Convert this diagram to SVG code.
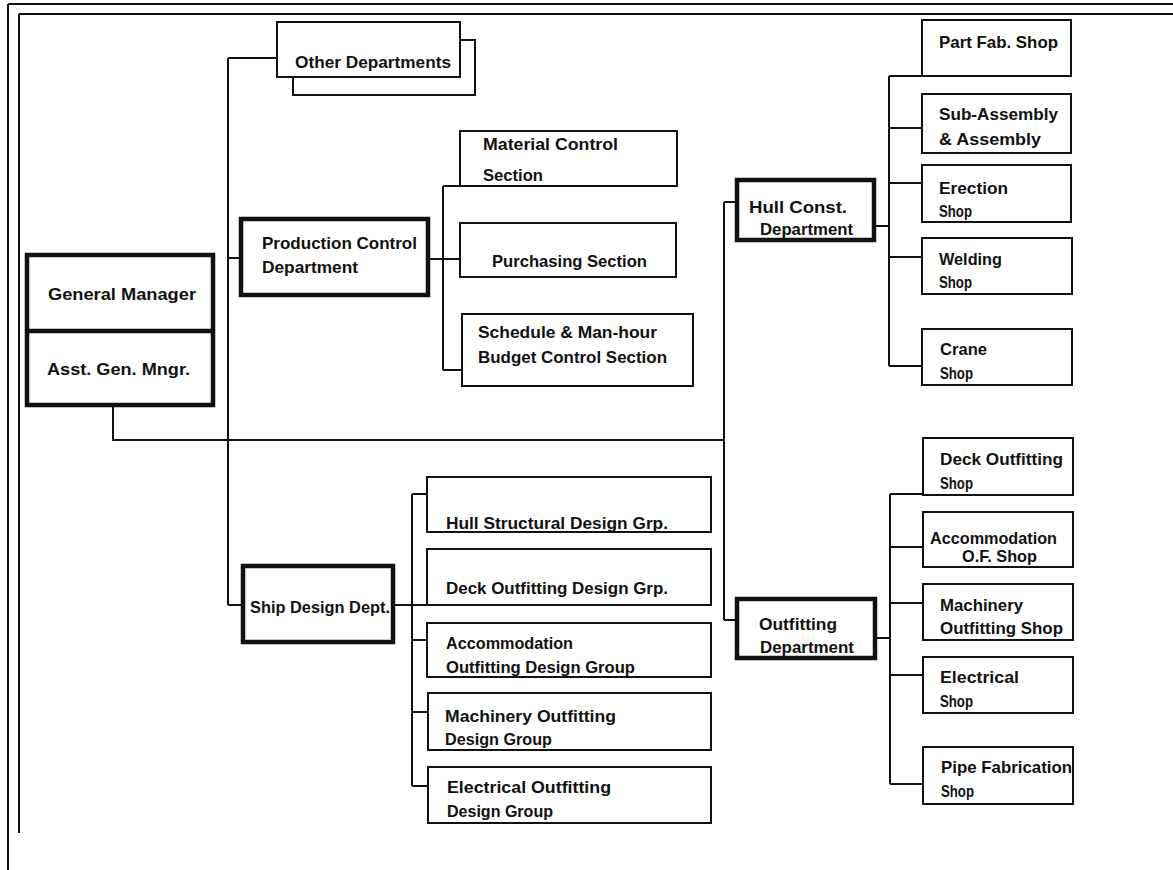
<svg xmlns="http://www.w3.org/2000/svg" width="1173" height="870" viewBox="0 0 1173 870">
<style>
.b{fill:#fff;stroke:#111;stroke-width:2}
.t{fill:#fff;stroke:#111;stroke-width:4.5}
.c{fill:none;stroke:#111;stroke-width:2}
text{font-family:"Liberation Sans",Arial,sans-serif;font-weight:bold;font-size:17px;fill:#111}
</style>
<rect width="1173" height="870" fill="#fff"/>
<g id="frame" class="c">
<line x1="8" y1="4" x2="1173" y2="4"/>
<line x1="19" y1="14" x2="1173" y2="14"/>
<line x1="8" y1="4" x2="8" y2="870"/>
<line x1="19" y1="14" x2="19" y2="833"/>
</g>
<g id="connectors" class="c">
<path d="M228,58V605M228,58H277M228,258H241M228,605H243"/>
<path d="M113,405V440H724"/>
<path d="M724,202V620M724,202H737M724,620H737"/>
<path d="M428,259H460M443,186V370M443,186H460M443,370H462"/>
<path d="M874,226H889M889,76V366M889,76H922M889,128H922M889,183H922M889,257H922M889,366H922"/>
<path d="M393,605H427M412,494V786M412,494H427M412,640H427M412,712H428M412,786H428"/>
<path d="M875,638H890M890,494V784M890,494H923M890,547H923M890,603H923M890,675H923M890,784H923"/>
</g>
<g id="other">
<rect class="b" x="293" y="40" width="182" height="55"/>
<rect class="b" x="277" y="22" width="183" height="55"/>
<text x="295" y="68" textLength="156" lengthAdjust="spacingAndGlyphs">Other Departments</text>
</g>
<g id="gm">
<rect class="t" x="27" y="255" width="186" height="150"/>
<line class="t" x1="27" y1="331" x2="213" y2="331"/>
<text x="48" y="300" textLength="148" lengthAdjust="spacingAndGlyphs">General Manager</text>
<text x="47" y="375" textLength="143" lengthAdjust="spacingAndGlyphs">Asst. Gen. Mngr.</text>
</g>
<g id="pcd">
<rect class="t" x="241" y="219" width="187" height="76"/>
<text x="262" y="249" textLength="155" lengthAdjust="spacingAndGlyphs">Production Control</text>
<text x="262" y="273" textLength="96" lengthAdjust="spacingAndGlyphs">Department</text>
</g>
<g id="mat">
<rect class="b" x="460" y="131" width="217" height="55"/>
<text x="483" y="150" textLength="135" lengthAdjust="spacingAndGlyphs">Material Control</text>
<text x="483" y="181" textLength="60" lengthAdjust="spacingAndGlyphs">Section</text>
</g>
<g id="purch">
<rect class="b" x="460" y="223" width="216" height="54"/>
<text x="492" y="267" textLength="155" lengthAdjust="spacingAndGlyphs">Purchasing Section</text>
</g>
<g id="sched">
<rect class="b" x="462" y="314" width="231" height="72"/>
<text x="478" y="338" textLength="179" lengthAdjust="spacingAndGlyphs">Schedule &amp; Man-hour</text>
<text x="478" y="363" textLength="189" lengthAdjust="spacingAndGlyphs">Budget Control Section</text>
</g>
<g id="hull">
<rect class="t" x="737" y="180" width="137" height="60"/>
<text x="749" y="213" textLength="98" lengthAdjust="spacingAndGlyphs">Hull Const.</text>
<text x="760" y="235" textLength="93" lengthAdjust="spacingAndGlyphs">Department</text>
</g>
<g id="partfab">
<rect class="b" x="922" y="20" width="149" height="56"/>
<text x="939" y="48" textLength="119" lengthAdjust="spacingAndGlyphs">Part Fab. Shop</text>
</g>
<g id="subasm">
<rect class="b" x="922" y="94" width="149" height="59"/>
<text x="939" y="120" textLength="119" lengthAdjust="spacingAndGlyphs">Sub-Assembly</text>
<text x="939" y="145" textLength="102" lengthAdjust="spacingAndGlyphs">&amp; Assembly</text>
</g>
<g id="erect">
<rect class="b" x="922" y="165" width="149" height="57"/>
<text x="939" y="194" textLength="69" lengthAdjust="spacingAndGlyphs">Erection</text>
<text x="939" y="217" textLength="33" lengthAdjust="spacingAndGlyphs">Shop</text>
</g>
<g id="weld">
<rect class="b" x="922" y="238" width="150" height="56"/>
<text x="939" y="265" textLength="63" lengthAdjust="spacingAndGlyphs">Welding</text>
<text x="939" y="288" textLength="33" lengthAdjust="spacingAndGlyphs">Shop</text>
</g>
<g id="crane">
<rect class="b" x="922" y="329" width="150" height="56"/>
<text x="940" y="355" textLength="47" lengthAdjust="spacingAndGlyphs">Crane</text>
<text x="940" y="379" textLength="33" lengthAdjust="spacingAndGlyphs">Shop</text>
</g>
<g id="sdd">
<rect class="t" x="243" y="566" width="150" height="76"/>
<text x="250" y="613" textLength="140" lengthAdjust="spacingAndGlyphs">Ship Design Dept.</text>
</g>
<g id="hsd">
<rect class="b" x="427" y="477" width="284" height="55"/>
<text x="446" y="529" textLength="222" lengthAdjust="spacingAndGlyphs">Hull Structural Design Grp.</text>
</g>
<g id="dod">
<rect class="b" x="427" y="549" width="284" height="56"/>
<text x="446" y="594" textLength="222" lengthAdjust="spacingAndGlyphs">Deck Outfitting Design Grp.</text>
</g>
<g id="aod">
<rect class="b" x="427" y="623" width="284" height="54"/>
<text x="446" y="649" textLength="127" lengthAdjust="spacingAndGlyphs">Accommodation</text>
<text x="446" y="673" textLength="189" lengthAdjust="spacingAndGlyphs">Outfitting Design Group</text>
</g>
<g id="mod">
<rect class="b" x="428" y="693" width="283" height="57"/>
<text x="445" y="722" textLength="171" lengthAdjust="spacingAndGlyphs">Machinery Outfitting</text>
<text x="445" y="745" textLength="107" lengthAdjust="spacingAndGlyphs">Design Group</text>
</g>
<g id="eod">
<rect class="b" x="428" y="767" width="283" height="56"/>
<text x="447" y="793" textLength="164" lengthAdjust="spacingAndGlyphs">Electrical Outfitting</text>
<text x="447" y="817" textLength="106" lengthAdjust="spacingAndGlyphs">Design Group</text>
</g>
<g id="outf">
<rect class="t" x="737" y="599" width="138" height="59"/>
<text x="759" y="630" textLength="78" lengthAdjust="spacingAndGlyphs">Outfitting</text>
<text x="760" y="653" textLength="94" lengthAdjust="spacingAndGlyphs">Department</text>
</g>
<g id="deckshop">
<rect class="b" x="923" y="438" width="150" height="57"/>
<text x="940" y="465" textLength="123" lengthAdjust="spacingAndGlyphs">Deck Outfitting</text>
<text x="940" y="489" textLength="33" lengthAdjust="spacingAndGlyphs">Shop</text>
</g>
<g id="accshop">
<rect class="b" x="923" y="512" width="150" height="55"/>
<text x="930" y="544" textLength="127" lengthAdjust="spacingAndGlyphs">Accommodation</text>
<text x="962" y="562" textLength="75" lengthAdjust="spacingAndGlyphs">O.F. Shop</text>
</g>
<g id="machshop">
<rect class="b" x="923" y="584" width="150" height="56"/>
<text x="940" y="611" textLength="83" lengthAdjust="spacingAndGlyphs">Machinery</text>
<text x="940" y="634" textLength="123" lengthAdjust="spacingAndGlyphs">Outfitting Shop</text>
</g>
<g id="elecshop">
<rect class="b" x="923" y="657" width="150" height="56"/>
<text x="940" y="683" textLength="79" lengthAdjust="spacingAndGlyphs">Electrical</text>
<text x="940" y="707" textLength="33" lengthAdjust="spacingAndGlyphs">Shop</text>
</g>
<g id="pipeshop">
<rect class="b" x="923" y="747" width="150" height="57"/>
<text x="941" y="773" textLength="131" lengthAdjust="spacingAndGlyphs">Pipe Fabrication</text>
<text x="941" y="797" textLength="33" lengthAdjust="spacingAndGlyphs">Shop</text>
</g>
</svg>
